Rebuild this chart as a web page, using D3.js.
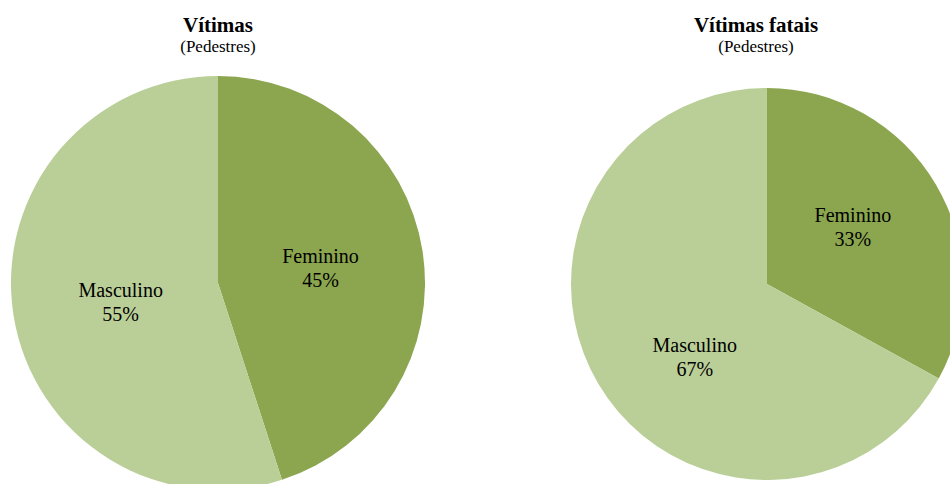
<!DOCTYPE html>
<html><head><meta charset="utf-8">
<script src="https://cdn.jsdelivr.net/npm/d3@7"></script>
<style>body{margin:0;background:#fff}svg{display:block}</style>
</head><body>
<svg id="c" width="950" height="484"></svg>
<script>
const categories = ["Feminino", "Masculino"];
const vitimas = [45, 55];
const vitimasFatais = [33, 67];
const titles = ["Vítimas", "Vítimas fatais"];
const subtitle = "(Pedestres)";
const colors = ["#8BA64E", "#BACF97"];

const FONT = "Liberation Serif";
const svg = d3.select("#c");
// label placement: radius fraction and angular shift (degrees) per slice
const charts = [
  {values: vitimas, title: titles[0], cx: 218, cy: 283, r: 207, tx: 218,
   lf: [0.5, 0.48], shift: [1, -2.6]},
  {values: vitimasFatais, title: titles[1], cx: 767, cy: 284, r: 196, tx: 756,
   lf: [0.523, 0.527], shift: [-2.5, -15]}
];
const color = d3.scaleOrdinal().domain(categories).range(colors);
const pie = d3.pie().sort(null).value(d => d.v);

charts.forEach(c => {
  const data = categories.map((k, i) => ({k, v: c.values[i]}));
  const g = svg.append("g").attr("transform", `translate(${c.cx},${c.cy})`);
  const arc = d3.arc().innerRadius(0).outerRadius(c.r);
  const arcs = pie(data);
  g.selectAll("path").data(arcs).join("path")
    .attr("d", arc).attr("fill", d => color(d.data.k));
  const lab = g.selectAll("g.lab").data(arcs).join("g").attr("class", "lab")
    .attr("transform", (d, i) => {
      const a = (d.startAngle + d.endAngle) / 2 + c.shift[i] * Math.PI / 180;
      const rr = c.r * c.lf[i];
      return `translate(${rr * Math.sin(a)},${-rr * Math.cos(a)})`;
    });
  lab.append("text").attr("text-anchor", "middle").attr("y", -6)
    .attr("font-size", 20).attr("font-family", FONT).attr("fill", "#000").text(d => d.data.k);
  lab.append("text").attr("text-anchor", "middle").attr("y", 18)
    .attr("font-size", 20).attr("font-family", FONT).attr("fill", "#000").text(d => d.data.v + "%");
  svg.append("text").attr("x", c.tx).attr("y", 31.5).attr("text-anchor", "middle")
    .attr("font-size", 21).attr("font-family", FONT).attr("font-weight", "bold").text(c.title);
  svg.append("text").attr("x", c.tx).attr("y", 52).attr("text-anchor", "middle")
    .attr("font-size", 17).attr("font-family", FONT).text(subtitle);
});
</script>
</body></html>
